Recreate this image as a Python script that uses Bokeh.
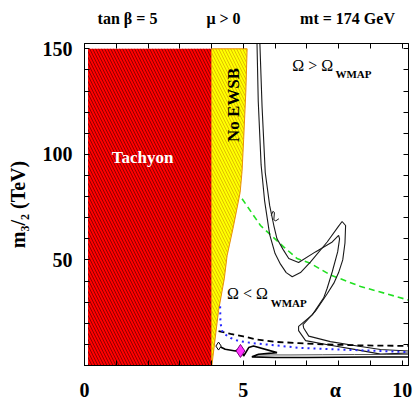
from bokeh.plotting import figure
from bokeh.models import Range1d, LinearAxis, FixedTicker, Label
from bokeh.embed import file_html
from bokeh.resources import INLINE
import math

# ---------------- data ----------------
tach_alpha = [0.11, 4.0, 4.0, 0.11]
tach_m = [0, 0, 150, 150]

ewsb_alpha = [4.0, 4.0, 5.12, 5.08, 5.01, 4.96, 4.90, 4.69, 4.49, 4.40, 4.22, 4.01]
ewsb_m = [0, 150, 150, 130, 107, 92, 82, 66, 52, 41, 26, 0]

contA_alpha = [5.43, 5.47, 5.56, 5.67, 5.83, 6.0, 6.17, 6.35, 6.54, 6.8, 7.11, 7.64, 8.0,
               8.11, 8.22, 8.2, 8.13, 8.0, 7.85, 7.64, 7.27, 6.88, 6.90, 7.06, 7.74, 8.59,
               9.32, 10.2]
contA_m = [153, 125, 95, 78, 62, 53, 48, 44, 42, 44, 49, 58.5, 66, 68.2, 66.3, 58, 50, 44,
           39, 34, 25.7, 19.4, 17.8, 13.9, 11.3, 9.2, 7.6, 6.9]

contB_alpha = [5.52, 5.59, 5.69, 5.83, 5.96, 6.06, 6.25, 6.43, 6.74, 7.27, 7.80, 8.0, 8.03,
               7.97, 7.80, 7.64, 7.53, 7.17, 6.74, 6.74, 6.96, 7.74, 8.59, 9.32, 10.2]
contB_m = [153, 122.6, 91.4, 75.7, 66.3, 60, 55, 50.7, 48.8, 53.8, 58.5, 61.6, 60, 53.8,
           44.4, 36.6, 32, 24, 18.5, 16.5, 11.8, 9.6, 7.4, 5.4, 5.9]

hook_alpha = [5.88, 5.93, 5.98, 5.96, 6.02, 6.12]
hook_m = [71, 73, 72.5, 69, 68.5, 69.5]

green_alpha = [4.96, 5.54, 6.27, 6.69, 7.11, 7.74, 8.69, 9.5, 10.2]
green_m = [79, 66.3, 56.2, 50.7, 48.4, 42.9, 37.4, 34, 31]

dash_alpha = [4.22, 4.6, 5.0, 5.38, 6.0, 6.74, 7.5, 8.5, 9.32, 10.2]
dash_m = [16.3, 15.0, 13.8, 12.4, 11.2, 10.6, 10.0, 9.6, 9.4, 9.3]

blue_alpha = [4.27, 4.28, 4.35, 4.6, 4.85, 5.3, 5.9, 6.74, 7.74, 8.5, 9.32, 10.2]
blue_m = [28, 20, 15.5, 13, 11.6, 10.6, 9.7, 8.4, 7.7, 7.3, 6.9, 6.3]

zig_alpha = [4.22, 4.43, 4.75, 4.91, 5.01, 5.17, 5.32, 6.06, 5.48, 5.27, 6.0, 7.0, 8.0, 9.0, 10.2]
zig_m = [9.2, 7.7, 6.9, 8.1, 4.5, 8.5, 9.2, 6.1, 5.3, 4.1, 3.8, 3.8, 3.9, 4.0, 4.0]

low_alpha = [5.4, 6.5, 7.5, 8.5, 9.5, 10.2]
low_m = [5.0, 5.0, 5.1, 5.2, 5.2, 5.3]

white_pt_alpha = [4.22]
white_pt_m = [9.2]
mag_pt_alpha = [4.91]
mag_pt_m = [6.9]

# ticks and tick labels
x_minor = list(range(0, 11))
x_major = [0, 5, 7.9, 10]
x_labels = {0: "0", 5: "5", 7.9: "\u03b1", 10: "10"}
top_major = [1.354, 4.376, 8.28]
top_labels = {1.354: "tan \u03b2 = 5", 4.376: "\u03bc > 0", 8.28: "mt = 174 GeV"}
y_ticks = list(range(0, 160, 10))
y_labels = {50: "50", 100: "100", 150: "150"}
y_title = "m\u2083/\u2082 (TeV)"

SERIF = "Liberation Serif"

# ---------------- figure ----------------
p = figure(width=413, height=403, output_backend="svg", toolbar_location=None,
           x_range=Range1d(0, 10.2), y_range=Range1d(0, 152.5),
           min_border_left=84, min_border_right=5, min_border_top=43, min_border_bottom=35,
           x_axis_location=None, y_axis_location=None)
p.grid.visible = False
p.outline_line_color = "black"
p.outline_line_width = 1
p.background_fill_color = "white"
p.border_fill_color = "white"


def make_axis(major, minor, labels, size, standoff, tick_major=True):
    ax = LinearAxis(ticker=FixedTicker(ticks=major, minor_ticks=minor))
    ax.major_label_overrides = {t: labels.get(t, "") for t in major}
    ax.major_tick_in = 5 if tick_major else 0
    ax.major_tick_out = 0
    ax.minor_tick_in = 5
    ax.minor_tick_out = 0
    ax.axis_line_color = "black"
    ax.major_tick_line_color = "black"
    ax.minor_tick_line_color = "black"
    ax.major_label_text_font = SERIF
    ax.major_label_text_font_style = "bold"
    ax.major_label_text_color = "black"
    ax.major_label_text_font_size = size
    ax.major_label_standoff = standoff
    return ax


bottom = make_axis(x_major, x_minor, x_labels, "20px", 13, tick_major=False)
left = make_axis(y_ticks, [], y_labels, "20px", 12)
left.axis_label = y_title
left.axis_label_text_font = SERIF
left.axis_label_text_font_style = "bold"
left.axis_label_text_font_size = "20px"
left.axis_label_text_color = "black"
left.axis_label_standoff = 11
top = make_axis(top_major, x_minor, top_labels, "16px", 17, tick_major=False)
right = make_axis(y_ticks, [], {}, "0px", 0)

p.add_layout(bottom, "below")
p.add_layout(left, "left")
p.add_layout(top, "above")
p.add_layout(right, "right")

# regions
p.patch(tach_alpha, tach_m, fill_color="#FF0000", line_color=None,
        hatch_pattern="\\", hatch_color="#300000", hatch_scale=6, hatch_weight=0.55)
p.patch(ewsb_alpha, ewsb_m, fill_color="#FFFF00", line_color="#E8900A", line_width=1,
        hatch_pattern="\\", hatch_color="#C89600", hatch_scale=6, hatch_weight=0.6)

# contours and lines
p.line(green_alpha, green_m, line_color="#22E022", line_width=1.6, line_dash="6 4")
p.line(contA_alpha, contA_m, line_color="#1a1a1a", line_width=1.1)
p.line(contB_alpha, contB_m, line_color="#1a1a1a", line_width=1.1)
p.line(hook_alpha, hook_m, line_color="#1a1a1a", line_width=1.0)
p.line(dash_alpha, dash_m, line_color="black", line_width=1.8, line_dash="6 4")
p.line(blue_alpha, blue_m, line_color="#2828FF", line_width=2, line_dash="2 4")
p.line(low_alpha, low_m, line_color="#555555", line_width=1.0)
p.line(zig_alpha, zig_m, line_color="black", line_width=1.6)
p.scatter(white_pt_alpha, white_pt_m, marker="diamond", size=8, fill_color="white",
          line_color="black", line_width=1)
p.scatter(mag_pt_alpha, mag_pt_m, marker="diamond", size=13, fill_color="#FF33FF",
          line_color="#800080", line_width=1)


def lab(x, y, text, size, style="bold", color="black", angle=0.0, align="center"):
    p.add_layout(Label(x=x, y=y, text=text, text_font=SERIF, text_font_size=size,
                       text_font_style=style, text_color=color, angle=angle,
                       text_align=align, text_baseline="middle"))


# region labels (inside the frame)
lab(1.83, 98.6, "Tachyon", "17px", color="white")
lab(4.69, 123.4, "No EWSB", "17px", angle=math.pi / 2)
lab(6.54, 142.2, "\u03a9 > \u03a9", "16px", style="normal", align="left")
lab(7.90, 138.0, "WMAP", "11px", align="left")
lab(4.49, 34.3, "\u03a9 < \u03a9", "16px", style="normal", align="left")
lab(5.86, 29.6, "WMAP", "11px", align="left")

open("out.html", "w").write(file_html(p, INLINE))
